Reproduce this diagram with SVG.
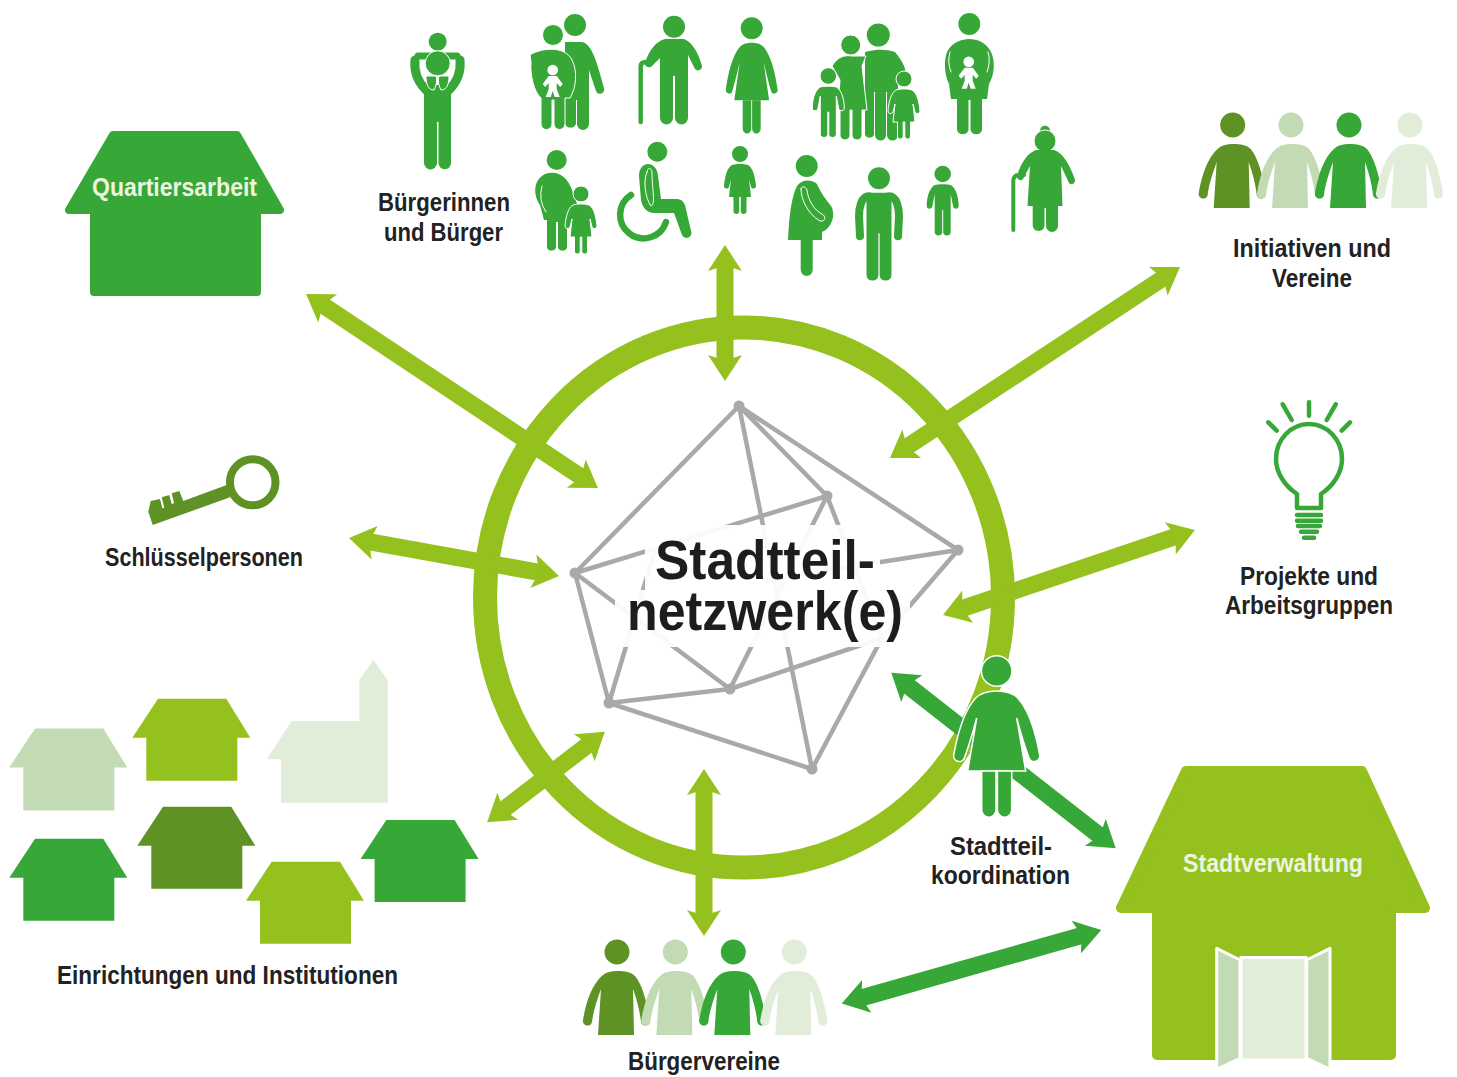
<svg xmlns="http://www.w3.org/2000/svg" width="1457" height="1077" viewBox="0 0 1457 1077">
<style>
.t{font-family:"Liberation Sans",Arial,sans-serif;font-weight:700;font-size:25px;fill:#222}
.c{font-family:"Liberation Sans",Arial,sans-serif;font-weight:700;font-size:55px;fill:#1d1d1b}
.wt{fill:#eef5df}
.g{fill:#37a838}
.lg{fill:none;stroke:#37a838;stroke-linecap:round;stroke-linejoin:round}
.wl{fill:none;stroke:#fff;stroke-width:1;stroke-linecap:round}
.al{stroke:#95c11f;stroke-width:17;fill:none}
.ag{stroke:#37a838;stroke-width:17;fill:none}
.net{stroke:#a9a9a9;stroke-width:4.500;fill:none}
.nd{fill:#a9a9a9}
</style>
<defs>
<marker id="hl" markerUnits="userSpaceOnUse" markerWidth="34" markerHeight="40" refX="6" refY="20" orient="auto-start-reverse" viewBox="0 0 34 40"><path d="M0,3 L26,20 L0,37 L3,28 L3,12 Z" fill="#95c11f"/></marker>
<marker id="hg" markerUnits="userSpaceOnUse" markerWidth="34" markerHeight="40" refX="6" refY="20" orient="auto-start-reverse" viewBox="0 0 34 40"><path d="M0,3 L26,20 L0,37 L3,28 L3,12 Z" fill="#37a838"/></marker>
<path id="house" d="M25.700,0 H94 L118,39 H105 V82 H14 V39 H0 Z"/>
<g id="pp"><circle cx="0" cy="0" r="12.500"/><path d="M-19,83 L-16,37 C-20,48 -24,60 -25,70 A4.500,4.500 0 0 1 -34,68 C-31,50 -25,32 -14,23 C-10,20 -6,19 0,19 C8,19 14,20 18,24 C25,32 30,50 33,68 A4.500,4.500 0 0 1 24,70 C23,60 20,48 16,37 L17,83 Z"/></g>
<g id="group4">
<use href="#pp" x="1232.700" y="125" fill="#5e9224"/>
<use href="#pp" x="1291" y="125" fill="#c3dbb5"/>
<use href="#pp" x="1349" y="125" fill="#37a838"/>
<use href="#pp" x="1410" y="125" fill="#e1edd9"/>
</g>
<g id="womanb"><path d="M-29,100 L-20,47 C-24,62 -29,78 -32,86 A5.500,5.500 0 0 1 -43,84 C-39,62 -33,40 -21,27 C-15,21 -8,20 0,20 C8,20 15,21 21,27 C33,40 39,62 43,84 A5.500,5.500 0 0 1 32,86 C29,78 24,62 20,47 L29,100 Z"/><path d="M-15,100 H-0.700 V139 A7,7 0 0 1 -15,139 Z M0.700,100 H15 V139 A7,7 0 0 1 0.700,139 Z"/></g>
<g id="male"><circle cx="0" cy="0" r="11"/><path d="M-12.500,97 V18 Q-12,14.400 -8,14.400 H8 Q12,14.400 12.500,18 V97 A6,6 0 0 1 0.600,97 V55 H-0.600 V97 A6,6 0 0 1 -12.500,97 Z"/><path class="lg" stroke-width="8" d="M-10,18 C-18,18 -20,30 -20,38 L-19,58 M10,18 C18,18 20,30 20,38 L19,58"/></g>
<g id="boy"><circle cx="0" cy="0" r="8.300"/><path d="M-8,59 V20 L-10.500,33 A3,3 0 0 1 -16,33 C-16,22 -13,14 -8,11 C-5,10 5,10 8,11 C13,14 16,22 16,33 A3,3 0 0 1 10.500,33 L8,20 V59 A4,4 0 0 1 0.500,59 V36 H-0.500 V59 A4,4 0 0 1 -8,59 Z"/></g>
<g id="girl"><circle cx="0" cy="0" r="8"/><path d="M-11,43 L-9,25 L-11,33 A2.600,2.600 0 0 1 -16,32 C-15,22 -13,14 -8,11 C-4,9.500 4,9.500 8,11 C13,14 15,22 16,32 A2.600,2.600 0 0 1 11,33 L9,25 L11,43 H6.500 V58 A3,3 0 0 1 0.800,58 V43 H-0.800 V58 A3,3 0 0 1 -6.500,58 V43 Z"/></g>
<g id="baby" fill="#fff" stroke="none"><circle cx="0" cy="0" r="5.300"/><path d="M-4,6 H4 L10,14 L7.500,17 L4,13 V19 L7,27 L2,27 L0,21 L-2,27 L-7,27 L-4,19 V13 L-7.500,17 L-10,14 Z"/></g>
</defs>
<rect width="1457" height="1077" fill="#fff"/>

<g id="ring"><ellipse cx="744" cy="597.500" rx="259" ry="270" fill="none" stroke="#95c11f" stroke-width="24"/></g>

<g id="connectors">
<line class="al" x1="322.700" y1="305" x2="581.300" y2="477" marker-start="url(#hl)" marker-end="url(#hl)"/>
<line class="al" x1="1163.300" y1="278" x2="906.700" y2="447" marker-start="url(#hl)" marker-end="url(#hl)"/>
<line class="al" x1="725" y1="265" x2="725" y2="361" marker-start="url(#hl)" marker-end="url(#hl)"/>
<line class="al" x1="368.700" y1="541.600" x2="539.300" y2="572.400" marker-start="url(#hl)" marker-end="url(#hl)"/>
<line class="al" x1="1176" y1="536.400" x2="962" y2="608.600" marker-start="url(#hl)" marker-end="url(#hl)"/>
<line class="al" x1="503" y1="810" x2="589" y2="744" marker-start="url(#hl)" marker-end="url(#hl)"/>
<line class="al" x1="704" y1="789" x2="704" y2="916" marker-start="url(#hl)" marker-end="url(#hl)"/>
<line class="ag" x1="907" y1="685" x2="1100" y2="836" marker-start="url(#hg)" marker-end="url(#hg)"/>
<line class="ag" x1="861" y1="998" x2="1082" y2="935.400" marker-start="url(#hg)" marker-end="url(#hg)"/>
</g>

<g id="netzwerk">
<path class="net" d="M739,406 L575,573 M739,406 L958,550 M739,406 L827,496 M739,406 L812,769 M827,496 L575,573 M827,496 L730,689 M827,496 L882,638 M958,550 L882,638 M958,550 L765,580 M882,638 L812,769 M882,638 L730,689 M575,573 L609,703 M575,573 L730,689 M609,703 L730,689 M609,703 L812,769 M609,703 L655,550"/>
<circle class="nd" cx="739" cy="406" r="5.500"/><circle class="nd" cx="958" cy="550" r="5.500"/><circle class="nd" cx="827" cy="496" r="5.500"/><circle class="nd" cx="575" cy="573" r="5.500"/><circle class="nd" cx="609" cy="703" r="5.500"/><circle class="nd" cx="730" cy="689" r="5.500"/><circle class="nd" cx="812" cy="769" r="5.500"/>
<path d="M645,525 H880 V590 H910 V647 H615 V590 H645 Z" fill="#fff" fill-opacity=".93"/>
<text class="c" x="655" y="579" textLength="220" lengthAdjust="spacingAndGlyphs">Stadtteil-</text>
<text class="c" x="627" y="630" textLength="276" lengthAdjust="spacingAndGlyphs">netzwerk(e)</text>
</g>

<g id="quartiersarbeit">
<path d="M113,135 H237 L280,210 H257 V292 H94 V210 H69 Z" class="g" stroke="#37a838" stroke-width="8" stroke-linejoin="round"/>
<text class="t wt" x="92" y="196" textLength="165" lengthAdjust="spacingAndGlyphs">Quartiersarbeit</text>
</g>

<g id="buerger">
<text class="t" x="378" y="211" textLength="132" lengthAdjust="spacingAndGlyphs">Bürgerinnen</text>
<text class="t" x="384" y="241" textLength="119" lengthAdjust="spacingAndGlyphs">und Bürger</text>
<g id="p-vater" class="g">
<circle cx="437.700" cy="41.700" r="9"/>
<path d="M424,163 V85 H451 V163 A6,6 0 0 1 438.500,163 V122 H437 V163 A6,6 0 0 1 424,163 Z"/>
<path class="lg" stroke-width="9" d="M426,90 C416,80 414,70 415,60 M449,90 C459,80 461,70 460,60"/>
<path class="lg" stroke-width="7" d="M418,56 H457"/>
<circle cx="437.700" cy="63.300" r="12.500" stroke="#fff" stroke-width="1"/>
<path d="M426,76 C426,84 428,90 434,90 C437,84 437,80 436,76 Z M449,76 C449,84 447,90 441,90 C438,84 438,80 439,76 Z" stroke="#fff" stroke-width="1"/>
</g>
<g id="p-paar" class="g">
<circle cx="575" cy="25" r="11"/>
<path d="M565,130 V42 H582 C592,44 597,62 604,88 A4,4 0 0 1 596,91 L589,70 V124 A6,6 0 0 1 577,124 V100 H576 V124 A6,6 0 0 1 565,124 Z"/>
<circle cx="553" cy="35" r="10.500" stroke="#fff" stroke-width="1"/>
<path d="M530,55 C540,48 565,45 572,60 C578,72 576,88 570,98 H565 V124 A5.500,5.500 0 0 1 554,124 V100 H552 V124 A5.500,5.500 0 0 1 541,124 V98 C534,92 530,75 531,62 Z" stroke="#fff" stroke-width="1"/>
<use href="#baby" x="552.700" y="70"/>
</g>
<g id="p-opa" class="g">
<circle cx="674" cy="26.700" r="11"/>
<path d="M660,122 V58 L652,66 A4,4 0 0 1 646,60 C650,50 655,42 665,39 H684 C692,42 698,52 702,66 A4,4 0 0 1 695,69 L688,55 V118 A6.500,6.500 0 0 1 675,118 V76 H673 V118 A6.500,6.500 0 0 1 660,118 Z"/>
<path class="lg" stroke-width="4.500" d="M640.700,122 V66 Q641,62 646,62 H652"/>
</g>
<g id="p-frau" class="g">
<circle cx="751.700" cy="28.300" r="11"/>
<use href="#womanb" transform="translate(751.700 28.300) scale(.6 .72)"/>
</g>
<g id="p-familie" class="g">
<circle cx="878.300" cy="35" r="11.500"/>
<path d="M865,135 V52 C880,48 890,50 895,52 C900,58 904,64 906,72 L898,78 V135 A5.500,5.500 0 0 1 887,135 V92 H886 V135 A5.500,5.500 0 0 1 875,135 V92 H874 V135 A5,5 0 0 1 865,135 Z"/>
<circle cx="850.700" cy="45" r="10" stroke="#fff" stroke-width="1"/>
<path d="M832,66 C838,56 845,55 852,56 H866 L862,66 L867,110 H862 V135 A5,5 0 0 1 852,135 V110 H850 V135 A5,5 0 0 1 840,135 V110 H838 L840,80 Z" stroke="#fff" stroke-width="1"/>
<g stroke="#fff" stroke-width="1"><use href="#boy" x="828.300" y="76"/><use href="#girl" x="904" y="79"/></g>
</g>
<g id="p-mutter" class="g">
<circle cx="969.300" cy="24" r="11"/>
<path d="M957,130 V99 H951 L949,84 C944,74 944,60 947,52 C952,42 962,39 969,39 C977,39 986,42 991,52 C995,60 995,74 989,84 L987,99 H982 V130 A6,6 0 0 1 970.500,130 V100 H968.500 V130 A6,6 0 0 1 957,130 Z"/>
<path class="wl" d="M950,52 Q947,62 951,72 M988,52 Q991,62 987,72"/>
<use href="#baby" x="968.700" y="61.700"/>
</g>
<g id="p-kindmutter" class="g">
<circle cx="556.700" cy="160" r="10"/>
<path d="M547,248 V220 H544 L540,205 C533,195 533,180 545,174 C556,170 567,175 572,190 L580,212 L567,222 V248 A5,5 0 0 1 558,248 V222 H556 V248 A5,5 0 0 1 547,248 Z"/>
<path class="wl" d="M542,186 Q538,200 546,212"/>
<g stroke="#fff" stroke-width="1"><use href="#girl" x="581" y="194"/></g>
</g>
<g id="p-rollstuhl" class="g">
<circle cx="657.300" cy="151.700" r="10"/>
<path class="lg" stroke-width="6.500" d="M631,195 A23.500,23.500 0 1 0 666,222"/>
<path d="M639,176 C639,160 657,160 658,176 L661,199 H676 C681,199 683,201 685,205 L691,231 A4.500,4.500 0 0 1 682,235 L674,213 H655 C645,213 642,205 641,200 Z"/>
<path class="wl" d="M647,172 C643,180 645,198 651,206 C656,204 652,190 652,172 C651,167 648,167 647,172 Z"/>
</g>
<use id="p-kind" href="#girl" class="g" x="740" y="154"/>
<g id="p-schwanger" class="g">
<circle cx="806.700" cy="166" r="11"/>
<path d="M800.700,240 H788 C789,215 792,195 797,186 C802,179 812,179 817,184 C821,193 826,200 831,206 C836,214 832,228 822,232 L822,240 H812.700 V270 A6,6 0 0 1 800.700,270 Z"/>
<path class="wl" d="M801,189 C801,200 808,214 820,221 C826,222 826,216 822,214 C814,210 808,200 807,190 C806,186 801,186 801,189 Z"/>
</g>
<use id="p-mann" href="#male" class="g" x="879" y="178.300"/>
<use id="p-junge" href="#boy" class="g" x="942.700" y="174"/>
<g id="p-oma" class="g">
<circle cx="1045" cy="130.700" r="5"/>
<circle cx="1045" cy="141" r="11" stroke="#fff" stroke-width="1"/>
<path d="M1027.500,206 L1030,166 L1023,179 A3.500,3.500 0 0 1 1017,176 C1021,162 1028,153 1036,150 H1054 C1063,153 1070,165 1075,180 A3.500,3.500 0 0 1 1069,183 L1061,166 L1062.500,206 H1058 V226 A6,6 0 0 1 1046,226 V208 H1044.500 V226 A6,6 0 0 1 1032.700,226 V206 Z"/>
<path class="lg" stroke-width="4" d="M1013.300,230 V180 Q1014,175 1019,175 H1024"/>
</g>
</g>

<g id="initiativen">
<use href="#group4"/>
<text class="t" x="1233" y="257" textLength="158" lengthAdjust="spacingAndGlyphs">Initiativen und</text>
<text class="t" x="1272" y="287" textLength="80" lengthAdjust="spacingAndGlyphs">Vereine</text>
</g>

<g id="projekte">
<path class="lg" stroke-width="4.500" d="M1297,508 L1297,494 C1285,486 1276,473 1276,459 A33,35 0 1 1 1342,459 C1342,473 1333,486 1321,494 L1321,508 Z"/>
<path class="lg" stroke-width="4.500" d="M1268.300,422.300 L1276.700,430.700 M1282.700,404.300 L1291.700,420 M1309,402.300 V415.700 M1335.700,404.300 L1326.700,420 M1350,422.300 L1341.700,430.700"/>
<path class="lg" stroke-width="4.500" d="M1297,515 H1321 M1297,520.700 H1321 M1298,526 H1320 M1301,531.700 H1317 M1304,537.700 H1314"/>
<text class="t" x="1240" y="585" textLength="138" lengthAdjust="spacingAndGlyphs">Projekte und</text>
<text class="t" x="1225" y="614" textLength="168" lengthAdjust="spacingAndGlyphs">Arbeitsgruppen</text>
</g>

<g id="schluessel">
<ellipse cx="252.700" cy="482.300" rx="22.800" ry="23" fill="none" stroke="#5e9224" stroke-width="8"/>
<path fill="#5e9224" d="M148.300,511.700 L150.700,501 L160,499 L162.300,508.300 L164.300,507.700 L161.700,497.300 L169.300,495 L171.700,504 L174,503.300 L171.700,493.300 L179.300,491 L183.300,501 L226.700,485 L230,497.300 L152.700,525 Z"/>
<text class="t" x="105" y="566" textLength="198" lengthAdjust="spacingAndGlyphs">Schlüsselpersonen</text>
</g>

<g id="einrichtungen">
<use href="#house" x="9.300" y="728.500" fill="#c3dbb5"/>
<use href="#house" x="132.300" y="698.700" fill="#95c11f"/>
<use href="#house" x="9.300" y="838.700" fill="#37a838"/>
<use href="#house" x="137.300" y="806.700" fill="#5e9224"/>
<use href="#house" x="246" y="861.700" fill="#95c11f"/>
<use href="#house" x="360.600" y="820" fill="#37a838"/>
<path fill="#e1edd9" d="M266.700,759.300 L291.700,721 H359.300 V680 L373.300,660 L387.700,680 V802.700 H281 V759.300 Z"/>
<text class="t" x="57" y="984" textLength="341" lengthAdjust="spacingAndGlyphs">Einrichtungen und Institutionen</text>
</g>

<g id="buergervereine">
<use href="#group4" transform="translate(-615.700 827)"/>
<text class="t" x="628" y="1070" textLength="152" lengthAdjust="spacingAndGlyphs">Bürgervereine</text>
</g>

<g id="koordination">
<circle cx="996.700" cy="671" r="15.300" fill="#37a838" stroke="#fff" stroke-width="1.500"/>
<use href="#womanb" fill="#37a838" stroke="#fff" stroke-width="1.500" transform="translate(996.700 671)"/>
<text class="t" x="950" y="855" textLength="102" lengthAdjust="spacingAndGlyphs">Stadtteil-</text>
<text class="t" x="931" y="884" textLength="139" lengthAdjust="spacingAndGlyphs">koordination</text>
</g>

<g id="stadtverwaltung">
<path d="M1186,771 H1362 L1425,908 H1391 V1055 H1157 V908 H1121 Z" fill="#95c11f" stroke="#95c11f" stroke-width="10" stroke-linejoin="round"/>
<rect x="1241" y="957.500" width="65" height="102.500" fill="#e1edd9" stroke="#fff" stroke-width="3"/>
<path d="M1216.700,948.300 L1240,960 V1058.300 L1216.700,1069.300 Z M1330,948.300 L1306.700,960 V1058.300 L1330,1069.300 Z" fill="#c3dbb5" stroke="#fff" stroke-width="3" stroke-linejoin="round"/>
<text class="t wt" x="1183" y="872" textLength="180" lengthAdjust="spacingAndGlyphs">Stadtverwaltung</text>
</g>
</svg>
